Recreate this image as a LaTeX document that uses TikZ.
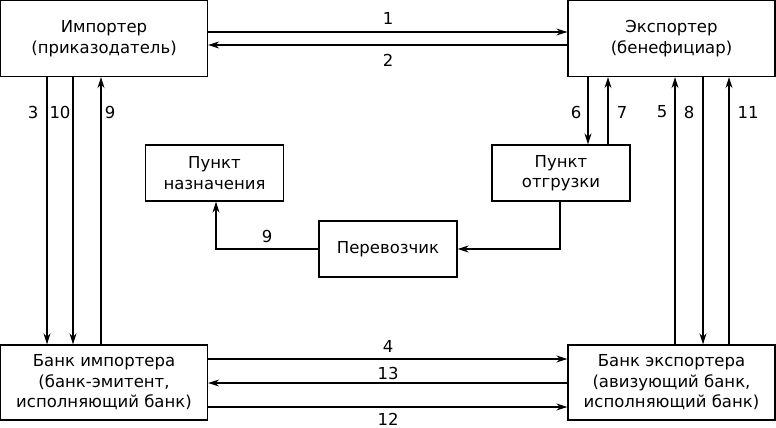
\documentclass[tikz,border=0pt]{standalone}
\usepackage{fontspec}
\setmainfont{DejaVu Sans}
\usetikzlibrary{arrows.meta}
\begin{document}
\begin{tikzpicture}[x=1pt, y=-1pt,
        party/.style={rectangle, draw, line width=1.3pt, minimum width=207pt, minimum height=76pt, inner sep=0pt, align=center, font=\fontsize{16.5}{20.5}\selectfont},
        point/.style={rectangle, draw, line width=1.3pt, minimum width=138pt, minimum height=56pt, inner sep=0pt, align=center, font=\fontsize{16.5}{20.5}\selectfont},
        num/.style={font=\fontsize{16.5}{20}\selectfont},
        arrow/.style={-{Stealth[length=11pt,width=7pt]}, line width=1.3pt}
    ]
        \useasboundingbox (0,0) rectangle (776,428);

        \node[party] (imp) at (104,38.5) {Импортер\\(приказодатель)};
        \node[party] (exp) at (671.5,38.5) {Экспортер\\(бенефициар)};
        \node[party, minimum height=75pt] (bimp) at (104,382.5) {Банк импортера\\(банк-эмитент,\\исполняющий банк)};
        \node[party, minimum height=75pt] (bexp) at (671.5,382.5) {Банк экспортера\\(авизующий банк,\\исполняющий банк)};

        \node[point] (dest) at (214.5,173) {Пункт\\назначения};
        \node[point] (ship) at (561,173) {Пункт\\отгрузки};
        \node[point] (carrier) at (388,249) {Перевозчик};

        \draw[arrow] ([yshift=6.5pt]imp.east) -- ([yshift=6.5pt]exp.west);
        \draw[arrow] ([yshift=-6.5pt]exp.west) -- ([yshift=-6.5pt]imp.east);
        \node[num] (n1) at (388,18) {1};
        \node[num] (n2) at (388,60) {2};

        \draw[arrow] ([yshift=23.5pt]bimp.east) -- ([yshift=23.5pt]bexp.west);
        \draw[arrow] ([yshift=-0.5pt]bexp.west) -- ([yshift=-0.5pt]bimp.east);
        \draw[arrow] ([yshift=-24.5pt]bimp.east) -- ([yshift=-24.5pt]bexp.west);
        \node[num] (n4) at (388,346) {4};
        \node[num] (n13) at (388,373) {13};
        \node[num] (n12) at (388,419) {12};

        \draw[arrow] ([xshift=-57pt]imp.south) -- ([xshift=-57pt]bimp.north);
        \draw[arrow] ([xshift=-31pt]imp.south) -- ([xshift=-31pt]bimp.north);
        \draw[arrow] ([xshift=-3pt]bimp.north) -- ([xshift=-3pt]imp.south);
        \node[num] (n3) at (33,112) {3};
        \node[num] (n10) at (60,112) {10};
        \node[num] (n9a) at (110,112) {9};

        \draw[arrow] ([xshift=-83.5pt]exp.south) -- ([xshift=-83.5pt]exp.south |- ship.north);
        \draw[arrow] ([xshift=-63.5pt]exp.south |- ship.north) -- ([xshift=-63.5pt]exp.south);
        \draw[arrow] ([xshift=3.5pt]bexp.north) -- ([xshift=3.5pt]exp.south);
        \draw[arrow] ([xshift=31.5pt]exp.south) -- ([xshift=31.5pt]bexp.north);
        \draw[arrow] ([xshift=57.5pt]bexp.north) -- ([xshift=57.5pt]exp.south);
        \node[num] (n6) at (576,112) {6};
        \node[num] (n7) at (622,112) {7};
        \node[num] (n5) at (662,112) {5};
        \node[num] (n8) at (689,112) {8};
        \node[num] (n11) at (748,112) {11};

        \draw[arrow] ([xshift=-1pt]ship.south) |- (carrier.east);
        \draw[arrow] (carrier.west) -| ([xshift=1.5pt]dest.south);
        \node[num] (n9b) at (267,236) {9};
    \end{tikzpicture}
\end{document}
